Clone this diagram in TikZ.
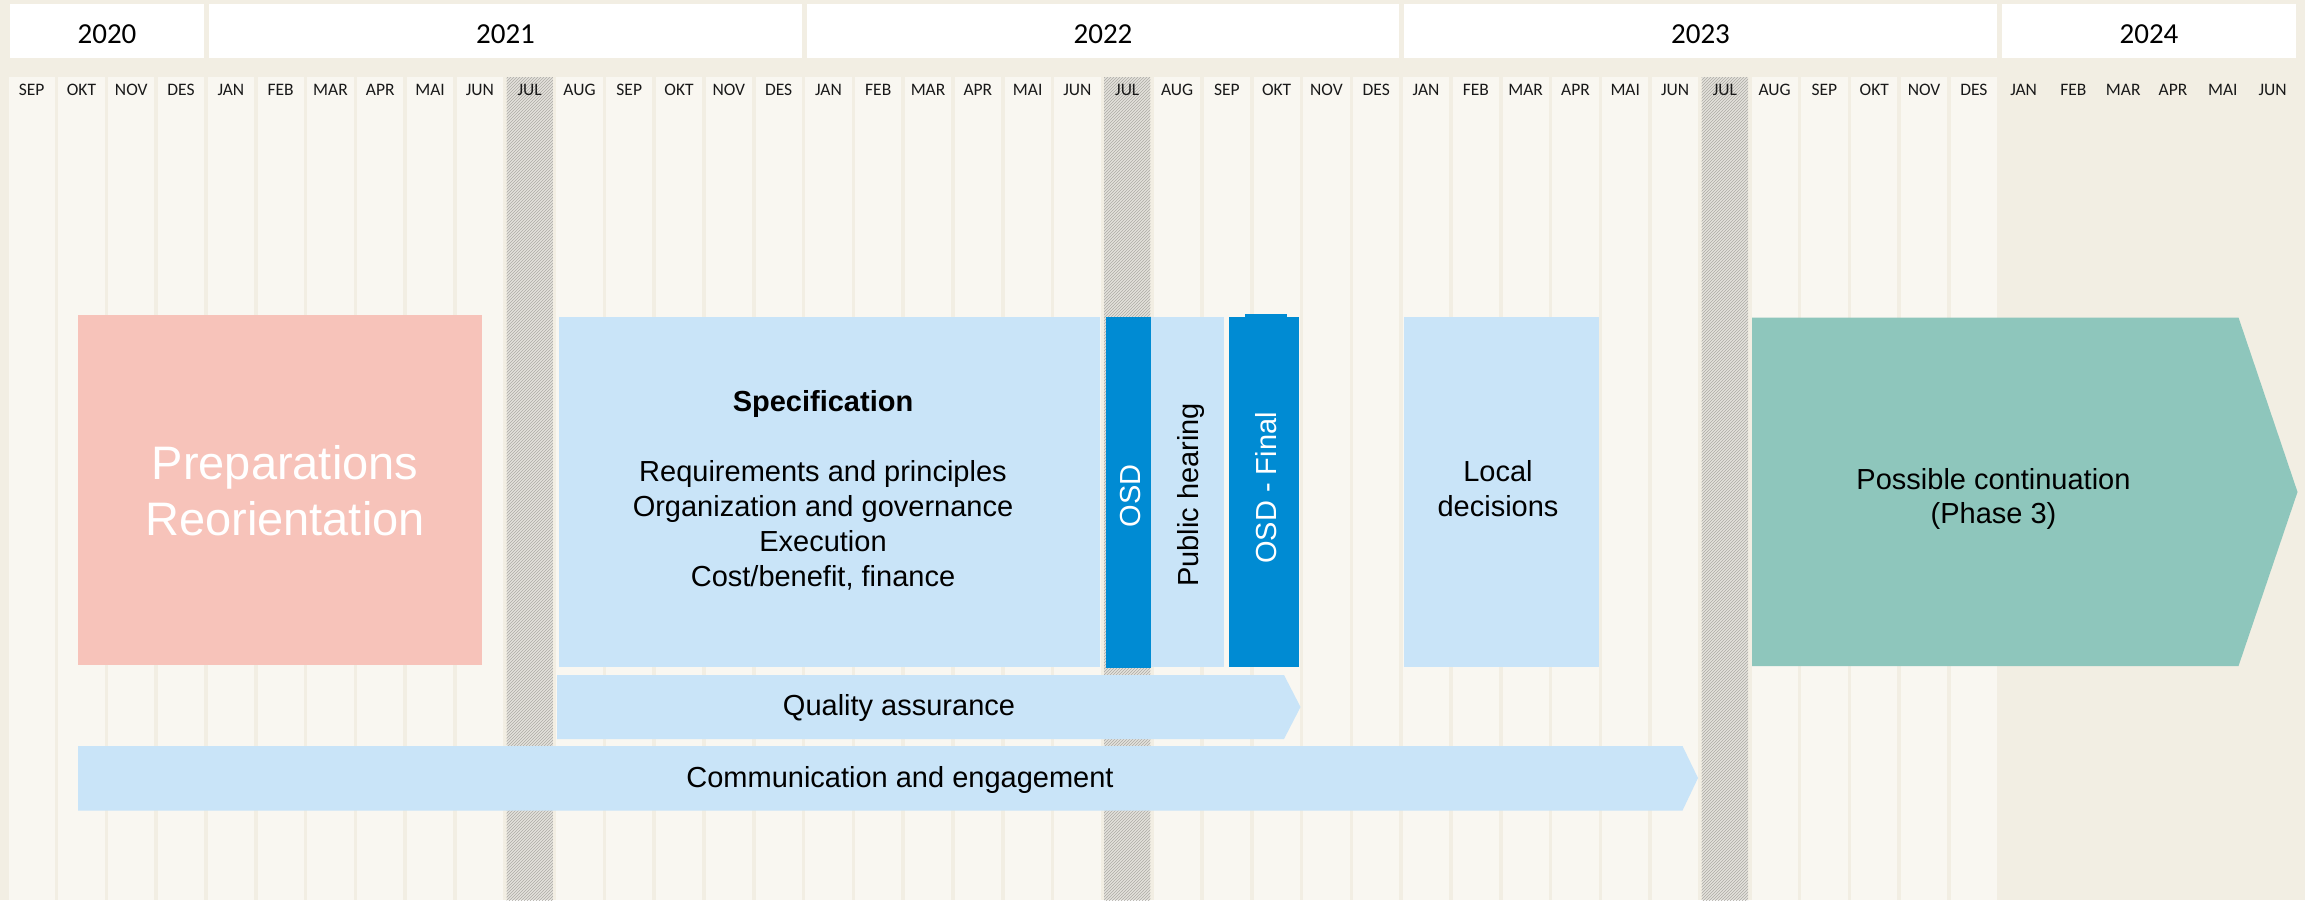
\documentclass[tikz,border=0pt]{standalone}
\usepackage{fontspec}
\setmainfont{Liberation Sans}
\newfontfamily\calfont{Carlito}
\usetikzlibrary{patterns}
\definecolor{bgc}{HTML}{F2EEE3}
\definecolor{colc}{HTML}{F9F7F1}
\definecolor{hatchbase}{HTML}{E4E2DC}
\definecolor{hatchline}{HTML}{ADABA5}
\definecolor{pinkc}{HTML}{F7C3BA}
\definecolor{lblue}{HTML}{C9E4F8}
\definecolor{dblue}{HTML}{008BD3}
\definecolor{tealc}{HTML}{8EC6BC}
\begin{document}
\begin{tikzpicture}[x=1pt,y=-1pt,
  every node/.style={inner sep=0pt,outer sep=0pt},
  monthlabel/.style={anchor=base,font=\calfont\fontsize{17.5}{20}\selectfont,text=black!90},
  yearbox/.style={fill=white,text height=24pt,text depth=0pt,minimum height=54pt,font=\calfont\fontsize{29}{34}\selectfont},
  boxnode/.style={anchor=north west},
  lbl/.style={anchor=base,font=\fontsize{29}{35}\selectfont,text=black},
  vlbl/.style={rotate=90,font=\fontsize{29}{35}\selectfont}]
\useasboundingbox (0,0) rectangle (2305,900);
\fill[bgc] (0,0) rectangle (2305,900);
% month columns
\foreach \i in {0,...,39}{
  \fill[colc] ({7+49.8*\i+1.5},77) rectangle ({7+49.8*(\i+1)-2},900);
}
\foreach \i in {10,22,34}{
  \fill[hatchbase] ({7+49.8*\i+1.5},77) rectangle ({7+49.8*(\i+1)-2},900);
  \fill[pattern=north east lines,pattern color=hatchline] ({7+49.8*\i+1.5},77) rectangle ({7+49.8*(\i+1)-2},900);
}
% month labels
\foreach \n [count=\i from 0] in {SEP,OKT,NOV,DES,JAN,FEB,MAR,APR,MAI,JUN,JUL,AUG,SEP,OKT,NOV,DES,JAN,FEB,MAR,APR,MAI,JUN,JUL,AUG,SEP,OKT,NOV,DES,JAN,FEB,MAR,APR,MAI,JUN,JUL,AUG,SEP,OKT,NOV,DES,JAN,FEB,MAR,APR,MAI,JUN}{
  \node[monthlabel] (m\i) at ({7+49.8*\i+24.65},95) {\n};
}
% year boxes
\node[yearbox,minimum width=194pt] (y2020) at (107,31) {2020};
\node[yearbox,minimum width=593pt] (y2021) at (505.5,31) {2021};
\node[yearbox,minimum width=592pt] (y2022) at (1103,31) {2022};
\node[yearbox,minimum width=593pt] (y2023) at (1700.5,31) {2023};
\node[yearbox,minimum width=294pt] (y2024) at (2149,31) {2024};
% pink box
\node[boxnode,fill=pinkc,minimum width=404pt,minimum height=350pt] (prep) at (78,315) {};
\node[anchor=base,text=white,font=\fontsize{47}{56.7}\selectfont] (tprep) at (285,479)
  {\begin{tabular}[t]{@{}c@{}}Preparations\\Reorientation\end{tabular}};
% specification
\node[boxnode,fill=lblue,minimum width=541.5pt,minimum height=350pt] (spec) at (558.5,317) {};
\node[lbl] (tspec) at (823,411.7)
  {\begin{tabular}[t]{@{}c@{}}\textbf{Specification}\\ \\Requirements and principles\\Organization and governance\\Execution\\Cost/benefit, finance\end{tabular}};
% OSD
\node[boxnode,fill=dblue,minimum width=45.5pt,minimum height=351pt] (osd) at (1105.5,317) {};
\node[vlbl,text=white] (tosd) at (1130.5,496) {OSD};
% public hearing
\node[boxnode,fill=lblue,minimum width=73pt,minimum height=350pt] (ph) at (1151,317) {};
\node[vlbl,text=black] (tph) at (1191,495) {Public hearing};
% OSD final
\fill[dblue] (1245,313.5) rectangle (1287,318);
\node[boxnode,fill=dblue,minimum width=70pt,minimum height=350pt] (osdf) at (1229,317) {};
\node[vlbl,text=white] (tosdf) at (1266.5,488) {OSD - Final};
% local decisions
\node[boxnode,fill=lblue,minimum width=195.5pt,minimum height=350pt] (loc) at (1403.5,317) {};
\node[lbl] (tloc) at (1498,481.7) {\begin{tabular}[t]{@{}c@{}}Local\\decisions\end{tabular}};
% possible continuation
\fill[tealc] (1752,317.5) -- (2238.5,317.5) -- (2297.5,492) -- (2238.5,666) -- (1752,666) -- cycle;
\node[lbl,font=\fontsize{29}{34.5}\selectfont] (tcont) at (1993.5,489)
  {\begin{tabular}[t]{@{}c@{}}Possible continuation\\(Phase 3)\end{tabular}};
% quality assurance
\fill[lblue] (557,675) -- (1284,675) -- (1300.5,707) -- (1284,739) -- (557,739) -- cycle;
\node[lbl] (tqa) at (899,715) {Quality assurance};
% communication
\fill[lblue] (78,746) -- (1682.5,746) -- (1698,778) -- (1682.5,810.5) -- (78,810.5) -- cycle;
\node[lbl] (tcomm) at (900,787) {Communication and engagement};
\end{tikzpicture}
\end{document}
